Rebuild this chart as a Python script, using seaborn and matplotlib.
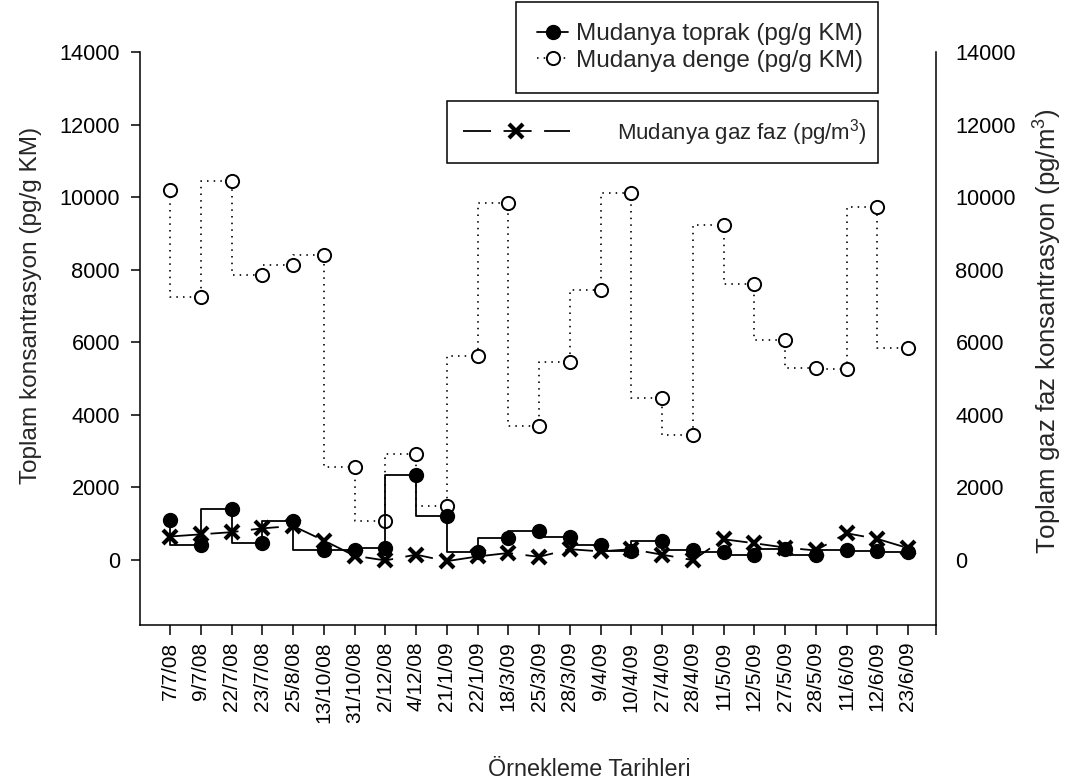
import numpy as np
import pandas as pd
import matplotlib
matplotlib.use("Agg")
import matplotlib.pyplot as plt
from matplotlib.lines import Line2D
import seaborn as sns

# Sampling dates (categorical x axis)
dates = ["7/7/08", "9/7/08", "22/7/08", "23/7/08", "25/8/08", "13/10/08",
         "31/10/08", "2/12/08", "4/12/08", "21/1/09", "22/1/09", "18/3/09",
         "25/3/09", "28/3/09", "9/4/09", "10/4/09", "27/4/09", "28/4/09",
         "11/5/09", "12/5/09", "27/5/09", "28/5/09", "11/6/09", "12/6/09",
         "23/6/09"]

# Soil concentration (pg/g KM)
toprak = [1090, 410, 1410, 470, 1065, 275, 275, 320, 2330, 1200, 210, 610,
          790, 640, 410, 250, 530, 275, 210, 140, 290, 140, 275, 250, 210]

# Equilibrium soil concentration (pg/g KM)
denge = [10200, 7250, 10430, 7840, 8140, 8400, 2550, 1070, 2925, 1480, 5610,
         9825, 3680, 5460, 7445, 10120, 4470, 3445, 9240, 7615, 6050, 5285,
         5265, 9730, 5850]

# Gas phase concentration (pg/m3)
gaz = [640, 700, 760, 865, 930, 530, 110, -20, 140, -40, 90, 185, 80, 290,
       230, 290, 140, -10, 565, 455, 335, 255, 730, 575, 320]

sns.set_style("ticks")
plt.rcParams["font.family"] = ["Liberation Sans", "DejaVu Sans"]
plt.rcParams["mathtext.fontset"] = "custom"
plt.rcParams["mathtext.rm"] = "Liberation Sans"
plt.rcParams["mathtext.it"] = "Liberation Sans:italic"
plt.rcParams["lines.scale_dashes"] = False

df = pd.DataFrame({"idx": np.arange(len(dates)), "tarih": dates,
                   "toprak": toprak, "denge": denge, "gaz": gaz})

fig = plt.figure(figsize=(10.73, 7.84), dpi=100)
ax = fig.add_axes([0.1305, 0.2028, 0.7418, 0.7309])

dot_style = (0, (1.1, 3.7))
dash_style = (0, (20.2, 9.0))

# Equilibrium series: dotted step line with open circles
sns.lineplot(data=df, x="idx", y="denge", ax=ax, sort=False, color="black",
             drawstyle="steps-pre", linestyle=dot_style, linewidth=1.2,
             marker="o", markersize=9.5, markerfacecolor="white",
             markeredgecolor="black", markeredgewidth=1.4, zorder=3)

# Soil series: solid step line with filled circles
sns.lineplot(data=df, x="idx", y="toprak", ax=ax, sort=False, color="black",
             drawstyle="steps-pre", linewidth=1.3,
             marker="o", markersize=10, markerfacecolor="black",
             markeredgecolor="black", markeredgewidth=1.0, zorder=4)

ax.set_xlim(-0.976, 24.91)
ax.set_ylim(-1800, 14000)
ax.set_yticks(np.arange(0, 14001, 2000))
ax.set_xticks(df["idx"])
ax.set_xticklabels(dates, rotation=90, fontsize=15)
ax.set_xticks([24.91], minor=True)
ax.tick_params(axis="x", which="both", direction="out", length=7, width=1.1,
               pad=5, colors="black")
ax.tick_params(axis="y", direction="out", length=6.5, width=1.1, pad=8,
               labelsize=15.7, colors="black")
ax.spines["top"].set_visible(False)
ax.spines["right"].set_visible(False)
for s in ("left", "bottom"):
    ax.spines[s].set_linewidth(1.1)
    ax.spines[s].set_color("black")

ax.set_xlabel("Örnekleme Tarihleri", fontsize=16.8)
ax.xaxis.set_label_coords(0.564, -0.232)
ax.set_ylabel("Toplam konsantrasyon (pg/g KM)", fontsize=17.6)
ax.yaxis.set_label_coords(-0.123, 0.557)

# Gas phase on its own right-hand axis
ax2 = ax.twinx()
sns.lineplot(data=df, x="idx", y="gaz", ax=ax2, sort=False, color="black",
             linestyle=dash_style, linewidth=1.3,
             marker="x", markersize=10.5, markeredgewidth=3.0,
             markeredgecolor="black", zorder=5)
ax2.set_ylim(-1800, 14000)
ax2.set_yticks(np.arange(0, 14001, 2000))
ax2.tick_params(axis="y", length=0, pad=14, labelsize=15.7, colors="black")
for s in ("top", "left", "bottom"):
    ax2.spines[s].set_visible(False)
ax2.spines["right"].set_linewidth(1.1)
ax2.spines["right"].set_color("black")
ax2.set_ylabel("Toplam gaz faz konsantrasyon (pg/m$^3$)", fontsize=18.6)
ax2.yaxis.set_label_coords(1.121, 0.513)
ax2.set_xlabel("")

# Legends
h_toprak = Line2D([], [], color="black", linewidth=1.3, marker="o",
                  markersize=10, markerfacecolor="black")
h_denge = Line2D([], [], color="black", linewidth=1.2, linestyle=dot_style,
                 marker="o", markersize=9.5, markerfacecolor="white",
                 markeredgecolor="black", markeredgewidth=1.4)
h_gaz = Line2D([], [], color="black", linewidth=1.3, linestyle=dash_style,
               marker="x", markersize=10.5, markeredgewidth=3.0)

leg1 = fig.legend(handles=[h_toprak, h_denge],
                  labels=["Mudanya toprak (pg/g KM)", "Mudanya denge (pg/g KM)"],
                  loc="upper left", bbox_to_anchor=(0.481, 0.997, 0.337, 0),
                  mode="expand", borderaxespad=0, fontsize=17.5,
                  handlelength=1.3, handletextpad=0.3, labelspacing=0.2,
                  borderpad=0.85, fancybox=False, framealpha=1,
                  edgecolor="black")
leg1.get_frame().set_linewidth(1.1)

leg2 = fig.legend(handles=[h_gaz], labels=["Mudanya gaz faz (pg/m$^3$)"],
                  loc="upper left", bbox_to_anchor=(0.4166, 0.871, 0.4017, 0),
                  mode="expand", borderaxespad=0, fontsize=16,
                  handlelength=4.85, handletextpad=2.1, borderpad=0.7,
                  fancybox=False, framealpha=1, edgecolor="black")
leg2.get_frame().set_linewidth(1.1)

fig.savefig("out.png", dpi=100, facecolor="white")
